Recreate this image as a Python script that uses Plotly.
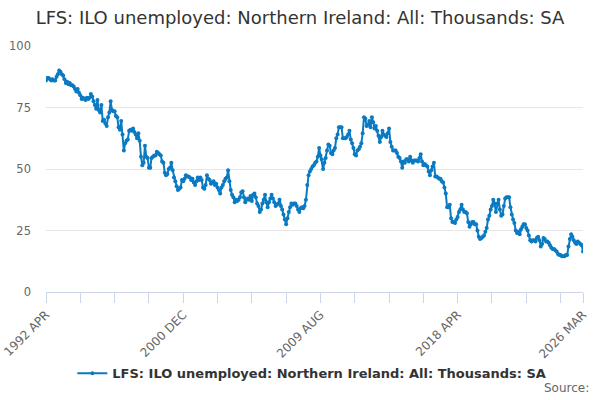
import plotly.graph_objects as go

MONTHS = ["JAN", "FEB", "MAR", "APR", "MAY", "JUN", "JUL", "AUG", "SEP", "OCT", "NOV", "DEC"]
START_YEAR, START_MONTH = 1992, 4

values = [
    86, 87, 87, 86.5, 86, 86.5, 86, 86, 87.5, 88.5, 90, 89.5,
    88.5, 88, 86.5, 85, 85.5, 84.5, 85, 84, 84, 83.5, 82.5, 81.5,
    82.5, 81, 80, 78.5, 79, 78.5, 78, 79, 78.5, 79, 80.5, 79.5,
    77.5, 76, 74.5, 78, 74, 73, 76, 69.5, 70, 68.5, 67.5, 71,
    73, 77.5, 74, 73.5, 73.5, 71.5, 71, 67, 66, 69.5, 64, 57.5,
    60.5, 61.5, 62, 65.5, 66, 65.5, 66.5, 65, 64, 62.5, 64.5, 61.5,
    55, 51.5, 52.5, 59.5, 55, 54.5, 50.5, 50.5, 54.5, 55, 55.5, 55.5,
    57, 56.5, 56, 55.5, 53, 52.5, 48.5, 47.5, 48, 50, 50.5, 52.5,
    49.5, 46.5, 45, 43, 41.5, 42, 42.5, 45.5, 45, 46, 47.5, 47,
    47, 46.5, 45.5, 46, 44.5, 43.5, 45, 46.5, 45.5, 46.5, 45.5, 42.5,
    42, 43.5, 47.5, 46, 45.5, 44, 44.5, 45, 43.5, 44, 42.5, 41.5,
    40, 42.5, 43.5, 45, 46, 46.5, 49.5, 45, 41.5, 39.5, 38.5, 36.5,
    37.5, 37, 37.5, 38.5, 40.5, 41, 38.5, 36.5, 37.5, 38, 37.5, 39,
    37, 39.5, 40, 38.5, 36, 35, 32.5, 33.5, 36, 37.5, 39.5, 36.5,
    34.5, 36.5, 38, 39.5, 38, 36.5, 35, 35.5, 36, 37.5, 35, 33.5,
    31.5, 29.5, 27.5, 30, 32.5, 34.5, 36, 35.5, 36, 36, 35, 33.5,
    32.5, 34, 34.5, 34, 35, 37.5, 43.5, 47.5, 49, 50, 51, 51.5,
    52.5, 53, 55, 58.5, 55.5, 54, 50, 52.5, 54.5, 57.5, 60, 59.5,
    56.5, 56, 57.5, 58.5, 62.5, 64, 67, 67, 67, 62.5, 62.5, 62.5,
    63, 64, 65.5, 62, 60.5, 58.5, 56, 55.5, 57.5, 58, 59, 60.5,
    64.5, 71, 70.5, 67.5, 68, 69.5, 67, 71, 69, 66.5, 67.5, 65.5,
    63.5, 61, 63, 65.5, 64, 63.5, 63, 64.5, 66.5, 61, 59, 57.5,
    57.5, 57.5, 56.5, 55, 54.5, 53, 50.5, 53, 52.5, 54, 54, 53,
    55, 53.5, 52.5, 53.5, 53.5, 53.5, 53, 54.5, 56, 53, 51.5, 52,
    51.5, 51, 49, 47.5, 49.5, 51, 52.5, 47, 47, 46.5, 46, 46,
    45, 44.5, 42.5, 40, 34.5, 34.5, 35.5, 30, 28.5, 28.5, 28, 29.5,
    30.5, 32.5, 33.5, 35.5, 33.5, 32.5, 32.5, 32, 28.5, 26.5, 27.5, 28.5,
    28.5, 27.5, 27.5, 25, 22.5, 21.5, 22, 22.5, 23, 24.5, 26, 29.5,
    31, 33.5, 35, 37.5, 36, 32.5, 36, 37.5, 33.5, 31, 31.5, 35,
    38, 38.5, 38.5, 38.5, 34.5, 31.5, 29.5, 28, 25, 24, 24.5, 23.5,
    25.5, 26.5, 27.5, 27.5, 26, 25, 23, 21, 20.5, 21, 21, 20.5,
    22, 22.5, 21, 18.5, 19.5, 22, 21.5, 20.5, 20.5, 20, 19, 18,
    17.5, 17.5, 17, 16.5, 15.5, 15, 15, 14.5, 14.5, 14.5, 15, 15,
    18.5, 21.5, 23.5, 22.5, 21, 20, 19.5, 20.5, 20, 19.5, 19, 16.5,
]

categories = []
for k in range(len(values)):
    m = START_MONTH - 1 + k
    categories.append(f"{START_YEAR + m // 12} {MONTHS[m % 12]}")

labelled_ticks = ["1992 APR", "2000 DEC", "2009 AUG", "2018 APR", "2026 MAR"]
y_ticks = [0, 25, 50, 75, 100]

series_name = "LFS: ILO unemployed: Northern Ireland: All: Thousands: SA"
title_text = "LFS: ILO unemployed: Northern Ireland: All: Thousands: SA"
source_text = "Source:"

tick_positions = list(range(0, len(categories), 26)) + [len(categories) - 1]
tick_vals = [categories[p] for p in tick_positions]
tick_text = [c if c in labelled_ticks else "" for c in tick_vals]

LINE_COLOR = "#0a7ac2"
FONT = "DejaVu Sans"

fig = go.Figure()
fig.add_trace(go.Scatter(
    x=categories, y=values, mode="lines+markers", name=series_name,
    line=dict(color=LINE_COLOR, width=2),
    marker=dict(color=LINE_COLOR, size=4),
))

fig.update_layout(
    width=600, height=400,
    margin=dict(l=46, r=17, t=46, b=108, autoexpand=False),
    paper_bgcolor="white", plot_bgcolor="white",
    font=dict(family=FONT, color="#666666", size=11),
    title=dict(text=title_text, x=0.5, xanchor="center", y=0.955, yanchor="middle",
               font=dict(family=FONT, size=18, color="#333333")),
    showlegend=True,
    legend=dict(orientation="h", x=0.495, xanchor="center", y=-0.33, yanchor="middle",
                font=dict(family=FONT, size=13, color="#333333", weight="bold"),
                bgcolor="rgba(0,0,0,0)"),
    xaxis=dict(type="category", range=[0, len(categories) - 1], automargin=False,
               tickmode="array", tickvals=tick_vals, ticktext=tick_text,
               tickangle=-45, ticks="outside", ticklen=10, tickcolor="#ccd6eb",
               showgrid=False, showline=True, linecolor="#ccd6eb", linewidth=1,
               tickfont=dict(family=FONT, size=12, color="#666666"), zeroline=False),
    yaxis=dict(range=[0, 100], tickvals=y_ticks, showgrid=True, gridcolor="#e6e6e6",
               zeroline=False, showline=False, ticks="", automargin=False,
               ticklabelstandoff=14,
               tickfont=dict(family=FONT, size=11.5, color="#666666")),
    annotations=[dict(text=source_text, xref="paper", yref="paper", x=1, y=-0.39,
                      xanchor="right", yanchor="middle", xshift=8, showarrow=False,
                      font=dict(family=FONT, size=12, color="#666666"))],
)

fig.write_html("out.html", config={"displayModeBar": False},
               post_script="document.body.style.margin='0';document.body.style.overflow='hidden';")
